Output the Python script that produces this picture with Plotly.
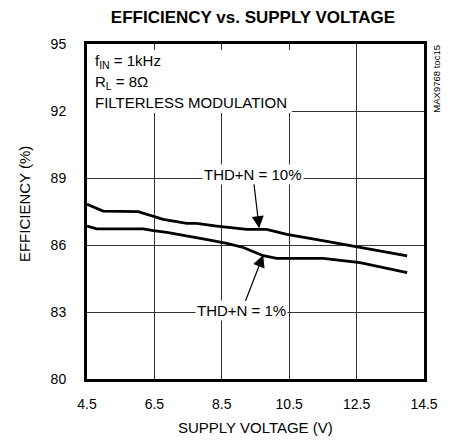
import plotly.graph_objects as go

# Data
v_thd10 = [4.5, 4.98, 6.02, 6.32, 6.76, 7.46, 7.75, 8.35, 8.74, 9.24, 9.83, 10.43, 11.41, 12.40, 14.0]
e_thd10 = [87.82, 87.52, 87.49, 87.34, 87.15, 86.97, 86.97, 86.85, 86.79, 86.70, 86.70, 86.48, 86.22, 85.95, 85.51]
v_thd1 = [4.5, 4.79, 6.17, 6.47, 6.87, 7.66, 8.15, 8.65, 9.14, 9.44, 9.73, 10.13, 11.51, 12.60, 14.0]
e_thd1 = [86.85, 86.72, 86.72, 86.64, 86.57, 86.37, 86.22, 86.07, 85.89, 85.70, 85.52, 85.40, 85.40, 85.21, 84.76]

x_ticks = [4.5, 6.5, 8.5, 10.5, 12.5, 14.5]
x_tick_text = ["4.5", "6.5", "8.5", "10.5", "12.5", "14.5"]
y_ticks = [80, 83, 86, 89, 92, 95]

FONT = "Liberation Sans, Arial, sans-serif"

fig = go.Figure()
fig.add_trace(go.Scatter(x=v_thd10, y=e_thd10, mode="lines",
                         line=dict(color="black", width=2.8), showlegend=False))
fig.add_trace(go.Scatter(x=v_thd1, y=e_thd1, mode="lines",
                         line=dict(color="black", width=2.8), showlegend=False))

# white box behind the conditions text (hides gridlines)
fig.add_shape(type="rect", xref="x", yref="y", x0=4.5, x1=10.58, y0=91.91, y1=94.73,
              fillcolor="white", line=dict(width=0), layer="between")

ann_font = dict(family=FONT, size=15, color="black")
annotations = [
    dict(text="f<sub>IN</sub> = 1kHz", x=0.018, y=0.947, xref="paper", yref="paper",
         xanchor="left", yanchor="middle", showarrow=False, font=ann_font),
    dict(text="R<sub>L</sub> = 8Ω", x=0.018, y=0.885, xref="paper", yref="paper",
         xanchor="left", yanchor="middle", showarrow=False, font=ann_font),
    dict(text="FILTERLESS MODULATION", x=0.018, y=0.825, xref="paper", yref="paper",
         xanchor="left", yanchor="middle", showarrow=False, font=ann_font),
    dict(text="MAX9768 toc15", x=1.038, y=0.896, xref="paper", yref="paper",
         xanchor="center", yanchor="middle", textangle=-90, showarrow=False,
         font=dict(family=FONT, size=9.5, color="black")),
    dict(text="THD+N = 10%", x=9.61, y=86.75, ax=9.42, ay=89.16, xref="x", yref="y",
         axref="x", ayref="y", showarrow=True, arrowhead=2, arrowsize=2, arrowwidth=1.2,
         arrowcolor="black", bgcolor="white", borderpad=1, font=ann_font),
    dict(text="THD+N = 1%", x=9.73, y=85.55, ax=9.09, ay=83.06, xref="x", yref="y",
         axref="x", ayref="y", showarrow=True, arrowhead=2, arrowsize=2, arrowwidth=1.2,
         arrowcolor="black", bgcolor="white", borderpad=1, font=ann_font),
    dict(text="SUPPLY VOLTAGE (V)", x=0.5, y=-0.146, xref="paper", yref="paper",
         xanchor="center", yanchor="middle", showarrow=False, font=ann_font),
    dict(text="EFFICIENCY (%)", x=-0.187, y=0.522, xref="paper", yref="paper",
         xanchor="center", yanchor="middle", textangle=-90, showarrow=False, font=ann_font),
]

fig.update_layout(
    width=443, height=435,
    margin=dict(l=79, r=27, t=36, b=64),
    paper_bgcolor="white", plot_bgcolor="white",
    title=dict(text="<b>EFFICIENCY vs. SUPPLY VOLTAGE</b>", x=0.4926, xref="paper",
               y=1 - 9.5 / 435, yref="container", xanchor="center", yanchor="middle",
               font=dict(family=FONT, size=17, color="black")),
    annotations=annotations,
    font=dict(family=FONT, size=15, color="black"),
)
fig.update_xaxes(range=[4.5, 14.5], tickvals=x_ticks, ticktext=x_tick_text,
                 showgrid=True, gridcolor="#333", gridwidth=1,
                 showline=True, linecolor="black", linewidth=3, mirror=True,
                 ticks="", ticklabelstandoff=10, zeroline=False,
                 tickfont=dict(family=FONT, size=14, color="black"))
fig.update_yaxes(range=[80, 95], tickvals=y_ticks,
                 showgrid=True, gridcolor="#333", gridwidth=1,
                 showline=True, linecolor="black", linewidth=3, mirror=True,
                 ticks="", ticklabelstandoff=15, zeroline=False,
                 tickfont=dict(family=FONT, size=14, color="black"))

fig.write_html("out.html")
